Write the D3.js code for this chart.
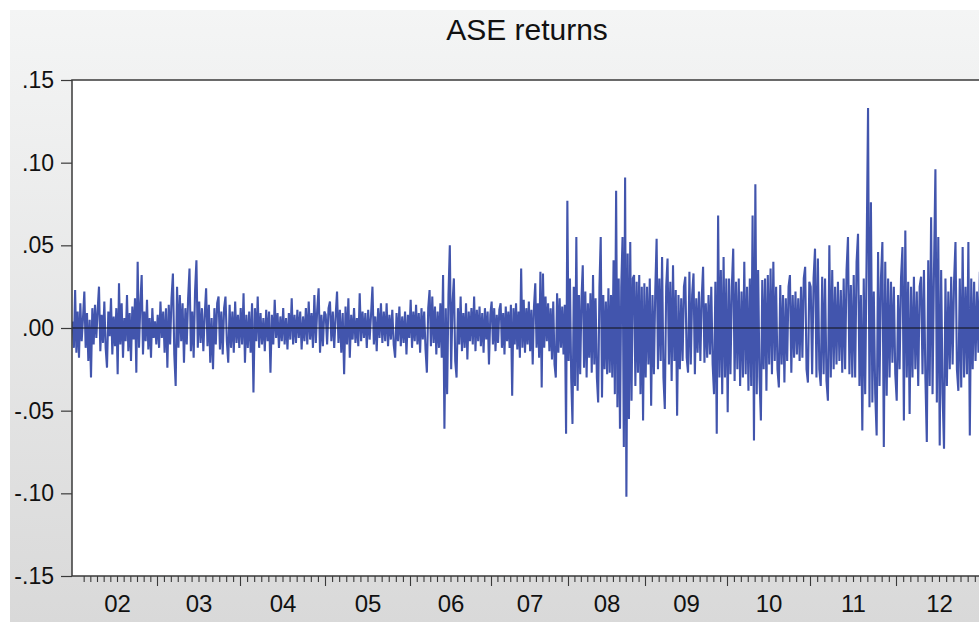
<!DOCTYPE html>
<html>
  <head>
    <meta charset='UTF-8'>
    <style>
    body { margin: 0; background: #fff; }
    svg { display: block; font-family: 'Liberation Sans', Arial, sans-serif; }
    .tick-label { fill: #111; }
    .title { font-size: 30px; fill: #111; }
    </style>
  </head>
  <body>
  <script src='https://cdnjs.cloudflare.com/ajax/libs/d3/7.8.5/d3.min.js'></script>
  <script>

    // trading days per year (2001 is only the last couple of weeks)
    var years = [2001, 2002, 2003, 2004, 2005, 2006, 2007, 2008, 2009, 2010, 2011, 2012];
    var tradingDays = [15, 240, 249, 255, 255, 243, 231, 231, 246, 249, 258, 258];
    var yearLabels = ['02', '03', '04', '05', '06', '07', '08', '09', '10', '11', '12'];
    var yTicks = [-0.15, -0.10, -0.05, 0, 0.05, 0.10, 0.15];

    // daily returns (thinned)
    var ret2001 = [.004, -.012, .023, -.015];
    var ret2002 = [.010,-.018,.015,-.008,.006,.022,-.012,.009,-.020,.005,-.030,.012,-.010,.014,-.006,.011,.025,-.014,.008,-.009,
      .016,-.012,-.024,.010,-.005,.018,-.016,.007,-.011,.012,-.028,.027,-.010,.015,-.018,.006,-.008,.020,-.014,.009,
      -.020,.013,-.007,.018,-.027,.040,-.012,.014,.032,-.016,.010,-.008,.017,-.013,.006,-.018,.012,-.006,.004,-.010];
    var ret2003 = [.008,-.012,.016,-.006,.010,-.015,.012,-.024,.014,-.010,.018,.033,-.016,-.035,.025,-.012,.020,-.008,.015,-.021,
      .012,-.010,.018,.036,-.014,.010,-.018,.022,.041,-.012,.016,-.009,.012,-.014,.008,.024,-.011,.014,-.021,.006,
      -.025,.012,-.010,.015,.019,-.013,.010,-.016,.012,.019,-.008,-.021,.014,-.012,.010,-.015,.016,-.009,.008,-.012];
    var ret2004 = [.012,-.010,.021,-.021,.008,-.012,.010,-.015,.015,-.039,.012,-.008,.019,-.012,.009,-.010,.006,-.014,.011,-.008,
      .010,-.027,.008,-.010,.017,-.006,.009,-.012,.007,-.008,.012,-.010,.006,-.013,.009,-.007,.018,-.010,.008,-.009,
      .011,-.006,.010,-.013,.007,-.008,.012,-.010,.016,-.007,.009,-.012,.020,-.009,.011,.024,-.015,.008,-.011,.010];
    var ret2005 = [.008,-.010,.012,.016,-.008,.010,-.012,.007,.022,-.009,.011,-.015,.009,-.028,.013,-.010,.018,-.018,.008,-.007,
      .012,-.009,.006,-.011,.021,-.008,.010,-.006,.009,-.012,.011,-.007,.008,.025,-.010,.007,-.014,.012,-.006,.015,
      -.009,.010,-.008,.015,-.011,.008,-.007,.011,-.010,-.018,.009,-.008,.013,-.011,.007,-.009,.010,-.016,.008,-.006];
    var ret2006 = [.017,-.012,.010,-.008,.014,-.010,.009,-.015,.012,-.007,.010,-.013,-.027,.012,.023,-.011,.019,-.009,.013,-.016,
      .010,-.012,.015,-.018,.032,-.061,.012,-.040,.020,.050,-.025,.015,.030,-.020,-.030,.012,-.010,.019,-.014,.009,
      -.012,.015,-.019,.010,-.008,.012,-.010,.019,-.014,.011,-.008,.013,-.011,.009,-.015,.012,-.007,.010,-.022,.008];
    var ret2007 = [.016,-.010,.012,-.014,.008,-.009,.011,.015,-.012,.009,-.016,.013,-.008,.010,-.012,.014,-.041,.012,-.010,.015,
      -.013,.010,-.018,.036,-.012,.017,-.015,.012,-.010,.016,-.014,.011,-.022,.013,.027,-.012,.015,-.018,.034,-.036,
      .033,-.012,.019,-.008,.015,-.014,.012,-.019,.016,-.022,-.030,.021,-.015,.018,-.012,.013,-.016,.014,-.064,.077];
    var ret2008 = [-.020,.030,-.030,-.058,.025,-.035,.055,-.038,.020,-.028,.018,.038,-.024,.022,-.030,.015,-.018,.021,-.027,.032,
      -.022,.018,-.030,-.045,.025,.055,-.042,.020,-.025,.016,-.028,.024,-.027,.020,-.030,.041,-.040,.083,-.048,.030,
      -.061,.025,.055,-.072,.091,-.102,.045,-.055,.052,-.044,.030,.032,-.035,.028,-.027,.032,-.040,.025,-.056,.027];
    var ret2009 = [-.030,.025,-.022,.030,-.047,.020,-.028,.022,.054,-.025,.030,-.020,.043,-.030,-.049,.025,.042,-.022,.028,-.032,
      .038,-.020,.023,-.053,.020,-.025,.018,-.020,.025,.031,-.018,-.027,.034,-.022,.020,.033,-.028,.018,-.015,.022,
      -.020,.018,.037,-.021,.015,-.018,.020,-.016,.025,-.022,-.040,.028,-.064,.068,-.030,.035,-.040,.043,-.030,.030];
    var ret2010 = [-.051,.030,-.028,.025,.048,-.032,.028,-.025,.030,-.035,.022,-.030,.040,-.028,.025,-.038,.030,-.035,.068,-.068,
      .087,-.040,.035,-.030,-.056,.029,-.025,.030,-.038,.032,-.022,.036,-.028,.040,-.020,.025,-.025,-.036,.026,-.022,
      .020,-.033,.018,-.020,.025,.032,-.027,.020,-.018,.022,-.016,.018,-.020,.025,-.018,.030,.037,-.025,-.033,.028];
    var ret2011 = [.025,-.028,.030,.048,-.030,.042,-.025,-.035,.031,-.028,.030,-.032,-.044,.050,-.030,.035,-.025,.025,-.022,.028,
      -.020,.023,-.027,.030,-.025,.035,.055,-.028,.026,-.030,.032,-.030,.040,.057,-.035,.020,-.062,.030,-.040,.045,
      .133,-.048,.076,-.045,.022,-.040,-.065,.046,-.035,.030,.052,-.072,.040,-.041,.030,-.030,.028,-.021,.025,-.028];
    var ret2012 = [-.044,.020,-.025,.030,.049,-.056,.059,-.030,.028,-.052,.025,-.030,.031,-.025,.022,-.035,.025,.031,-.028,.035,
      -.030,-.069,.041,-.035,.067,-.040,.035,.096,-.045,.055,-.071,.035,-.040,-.073,.030,-.035,.022,-.025,.031,-.022,
      .028,.052,-.025,-.038,.030,-.036,.049,-.030,.025,-.028,.052,-.065,.030,-.025,.028,-.020,.022,-.015,.034,-.040];

    var returnsByYear = [ret2001, ret2002, ret2003, ret2004, ret2005, ret2006,
      ret2007, ret2008, ret2009, ret2010, ret2011, ret2012];

    var width = 979, height = 622;
    var margin = {left: 72, top: 80, bottom: 46};
    var plotRight = 982;
    var plotBottom = height - margin.bottom;

    // observation index where each year begins
    var yearStart = [];
    var acc = 0;
    tradingDays.forEach(function(d) { yearStart.push(acc); acc += d; });
    var totalObs = acc;

    var points = [];
    returnsByYear.forEach(function(arr, yi) {
      arr.forEach(function(v, i) {
        points.push({obs: yearStart[yi] + (i + 0.5) / arr.length * tradingDays[yi], value: v});
      });
    });

    var x = d3.scaleLinear().domain([0, totalObs]).range([margin.left, plotRight]);
    var y = d3.scaleLinear().domain([-0.15, 0.15]).range([plotBottom, margin.top]);

    var svg = d3.select('body')
      .append('svg')
      .attr('width', width)
      .attr('height', height);

    var grad = svg.append('defs').append('linearGradient')
      .attr('id', 'bg').attr('x1', 0).attr('y1', 0).attr('x2', 0).attr('y2', 1);
    grad.append('stop').attr('offset', '0%').attr('stop-color', '#f4f5f5');
    grad.append('stop').attr('offset', '100%').attr('stop-color', '#d9d9d9');

    svg.select('defs').append('clipPath').attr('id', 'plotclip')
      .append('rect')
      .attr('x', margin.left).attr('y', margin.top)
      .attr('width', plotRight - margin.left).attr('height', plotBottom - margin.top);

    svg.append('rect')
      .attr('x', 10).attr('y', 10)
      .attr('width', width - 10).attr('height', height - 10)
      .attr('fill', 'url(#bg)');

    svg.append('rect')
      .attr('x', margin.left).attr('y', margin.top)
      .attr('width', plotRight - margin.left).attr('height', plotBottom - margin.top)
      .attr('fill', '#fff');

    svg.append('text')
      .attr('class', 'title')
      .attr('x', (margin.left + plotRight) / 2)
      .attr('y', 40)
      .attr('text-anchor', 'middle')
      .text('ASE returns');

    var line = d3.line()
      .x(function(d) { return x(d.obs); })
      .y(function(d) { return y(d.value); });

    svg.append('path')
      .datum(points)
      .attr('clip-path', 'url(#plotclip)')
      .attr('d', line)
      .attr('fill', 'none')
      .attr('stroke', '#4255ad')
      .attr('stroke-width', 2.1)
      .attr('stroke-linejoin', 'bevel');

    // zero line
    svg.append('line')
      .attr('x1', margin.left).attr('x2', plotRight)
      .attr('y1', y(0)).attr('y2', y(0))
      .attr('stroke', '#111')
      .attr('stroke-width', 1.2);

    // frame
    svg.append('rect')
      .attr('x', margin.left).attr('y', margin.top)
      .attr('width', plotRight - margin.left).attr('height', plotBottom - margin.top)
      .attr('fill', 'none')
      .attr('stroke', '#3a3a3a')
      .attr('stroke-width', 1.5);

    // y axis
    var fmt = function(v) {
      var s = d3.format('.2f')(Math.abs(v)).replace(/^0/, '');
      return (v < -1e-9 ? '-' : '') + s;
    };
    var yAxis = d3.axisLeft(y).tickValues(yTicks).tickSize(11).tickPadding(7).tickFormat(fmt);
    var gy = svg.append('g').attr('transform', 'translate(' + margin.left + ',0)').call(yAxis);
    gy.select('.domain').remove();
    gy.selectAll('line').attr('stroke', '#3a3a3a').attr('stroke-width', 1.2);
    gy.selectAll('text').attr('class', 'tick-label').style('font-size', '23px')
      .attr('font-family', null);

    // x axis: monthly minor ticks, yearly major ticks, labels at year centres
    var minorTicks = [], majorTicks = [], labelPos = [];
    for (var yi = 1; yi < years.length; yi++) {
      majorTicks.push(yearStart[yi]);
      labelPos.push(yearStart[yi] + tradingDays[yi] / 2);
      for (var m = 1; m < 12; m++) minorTicks.push(yearStart[yi] + m / 12 * tradingDays[yi]);
    }

    var gx = svg.append('g').attr('transform', 'translate(0,' + plotBottom + ')');
    gx.append('g').call(d3.axisBottom(x).tickValues(minorTicks).tickSize(6).tickFormat(''))
      .call(function(g) { g.select('.domain').remove(); });
    gx.append('g').call(d3.axisBottom(x).tickValues(majorTicks.slice(1)).tickSize(10).tickFormat(''))
      .call(function(g) { g.select('.domain').remove(); });
    gx.selectAll('line').attr('stroke', '#3a3a3a').attr('stroke-width', 1.1);

    gx.append('g').call(d3.axisBottom(x).tickValues(labelPos).tickSize(0).tickPadding(19)
        .tickFormat(function(d, i) { return yearLabels[i]; }))
      .call(function(g) {
        g.select('.domain').remove();
        g.selectAll('text').attr('class', 'tick-label').style('font-size', '24px').attr('font-family', null);
      });

  </script>
  </body>
</html>
